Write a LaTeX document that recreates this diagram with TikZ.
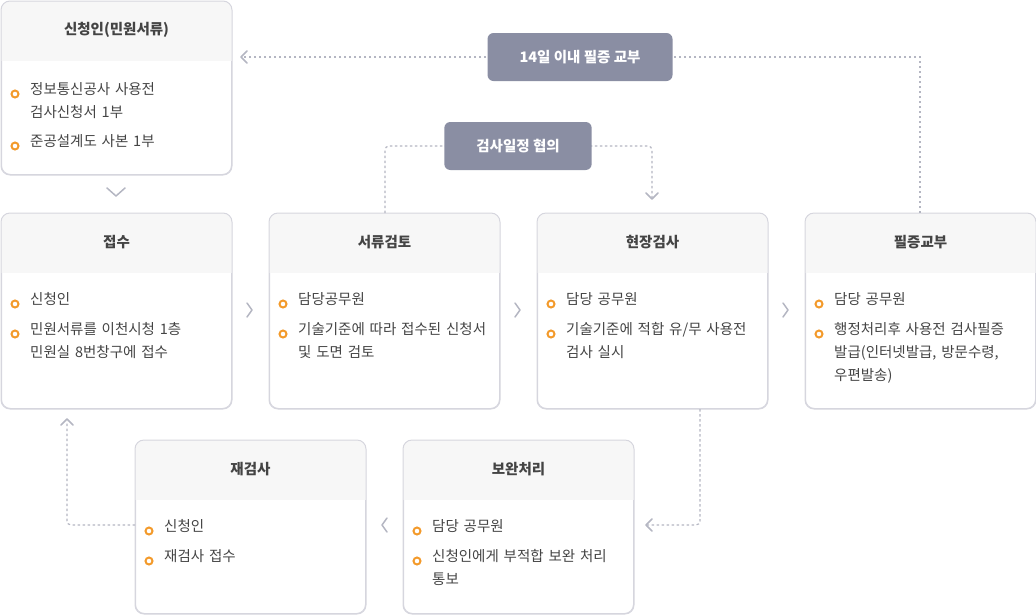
\documentclass[tikz,border=0pt]{standalone}
\usepackage{fontspec}
\setmainfont{Noto Sans CJK KR}
\usetikzlibrary{positioning,calc}
\definecolor{edgegray}{HTML}{D6D6DE}
\definecolor{headgray}{HTML}{F7F7F7}
\definecolor{pillgray}{HTML}{8A8EA3}
\definecolor{dotgray}{HTML}{B4B6C2}
\definecolor{ringorange}{HTML}{F39A2B}
\definecolor{txtgray}{HTML}{444444}
\tikzset{
  card/.style={draw=edgegray, line width=1pt, rounded corners=9pt, minimum width=230pt, minimum height=#1, inner sep=0pt},
  cardtitle/.style={font=\fontsize{14.5}{16}\selectfont\bfseries, text=txtgray},
  item/.style={anchor=north west, font=\fontsize{14.5}{23}\selectfont, text=txtgray, text width=195pt, inner sep=0pt, align=left},
  ring/.style={draw=ringorange, line width=2pt, circle, minimum size=7pt, inner sep=0pt},
  pill/.style={fill=pillgray, rounded corners=6pt, text=white, font=\fontsize{14.5}{16}\selectfont\bfseries, minimum height=48pt, inner xsep=32pt},
  dotline/.style={draw=dotgray, line width=1.2pt, dash pattern=on 2.5pt off 2.5pt},
  chev/.style={draw=dotgray, line width=1.5pt, line cap=round, line join=round},
}
% card: name, top-left x, y, height, title
\newcommand\stepcard[5]{%
  \node[card=#4, anchor=north west] (#1) at (#2,#3) {};
  \begin{scope}
    \clip[rounded corners=9pt] (#1.north west) rectangle (#1.south east);
    \fill[headgray] (#1.north west) rectangle ($(#1.north east)+(0,60)$);
  \end{scope}
  \draw[edgegray, line width=1pt, rounded corners=9pt] (#1.north west) rectangle (#1.south east);
  \node[cardtitle] (#1-t) at ($(#1.north)+(0,29)$) {#5};
}
% bullet item: card, offset from top, name, text
\newcommand\stepitem[4]{%
  \node[ring] at ($(#1.north west)+(14,#2)$) {};
  \node[item] (#3) at ($(#1.north west)+(29,#2-12)$) {#4};
}
\begin{document}
\begin{tikzpicture}[x=1pt,y=-1pt]
\useasboundingbox (0,0) rectangle (1036,614);
\stepcard{apply}{1}{1}{173pt}{신청인(민원서류)}
\stepitem{apply}{93}{apply-a}{정보통신공사 사용전\\검사신청서 1부}
\stepitem{apply}{145}{apply-b}{준공설계도 사본 1부}

\stepcard{recv}{1}{213}{195pt}{접수}
\stepitem{recv}{91}{recv-a}{신청인}
\stepitem{recv}{121}{recv-b}{민원서류를 이천시청 1층\\민원실 8번창구에 접수}

\stepcard{review}{269}{213}{195pt}{서류검토}
\stepitem{review}{91}{review-a}{담당공무원}
\stepitem{review}{121}{review-b}{기술기준에 따라 접수된 신청서\\및 도면 검토}

\stepcard{site}{537}{213}{195pt}{현장검사}
\stepitem{site}{91}{site-a}{담당 공무원}
\stepitem{site}{121}{site-b}{기술기준에 적합 유/무 사용전\\검사 실시}

\stepcard{issue}{805}{213}{195pt}{필증교부}
\stepitem{issue}{91}{issue-a}{담당 공무원}
\stepitem{issue}{121}{issue-b}{행정처리후 사용전 검사필증\\발급(인터넷발급, 방문수령,\\우편발송)}

\stepcard{fix}{403}{440}{173pt}{보완처리}
\stepitem{fix}{91}{fix-a}{담당 공무원}
\stepitem{fix}{121}{fix-b}{신청인에게 부적합 보완 처리\\통보}

\stepcard{recheck}{135}{440}{173pt}{재검사}
\stepitem{recheck}{91}{recheck-a}{신청인}
\stepitem{recheck}{121}{recheck-b}{재검사 접수}

% dotted returns
\coordinate (p1) at (920,57);
\coordinate (p2) at (243,57);
\draw[dotline] (issue.north -| p1) -- (p1) -- (p2);
\node[pill] (cert) at (580,57) {14일 이내 필증 교부};
\coordinate (q1) at (385,146);
\coordinate (q2) at (652,146);
\draw[dotline, rounded corners=4pt] (review.north -| q1) -- (q1) -- (q2) -- (652,200);
\node[pill] (sched) at (518,146) {검사일정 협의};
\coordinate (r1) at (700,525);
\draw[dotline, rounded corners=4pt] (site.south -| r1) -- (r1) -- (646,525);
\coordinate (s1) at (67,525);
\draw[dotline, rounded corners=4pt] (recheck.west |- s1) -- (s1) -- (67,421);

% chevrons
\draw[chev] (247,51) -- (241,57) -- (247,63);
\draw[chev] (646,193) -- (652,199) -- (658,193);
\draw[chev] (652,519) -- (646,525) -- (652,531);
\draw[chev] (61,425) -- (67,419) -- (73,425);
\draw[chev] (107,188) -- (116,196) -- (125,188);
\foreach \cx in {247,515,783}
  \draw[chev] (\cx,303) -- (\cx+5,310) -- (\cx,317);
\draw[chev] (387,518) -- (382,525) -- (387,532);
\end{tikzpicture}
\end{document}
